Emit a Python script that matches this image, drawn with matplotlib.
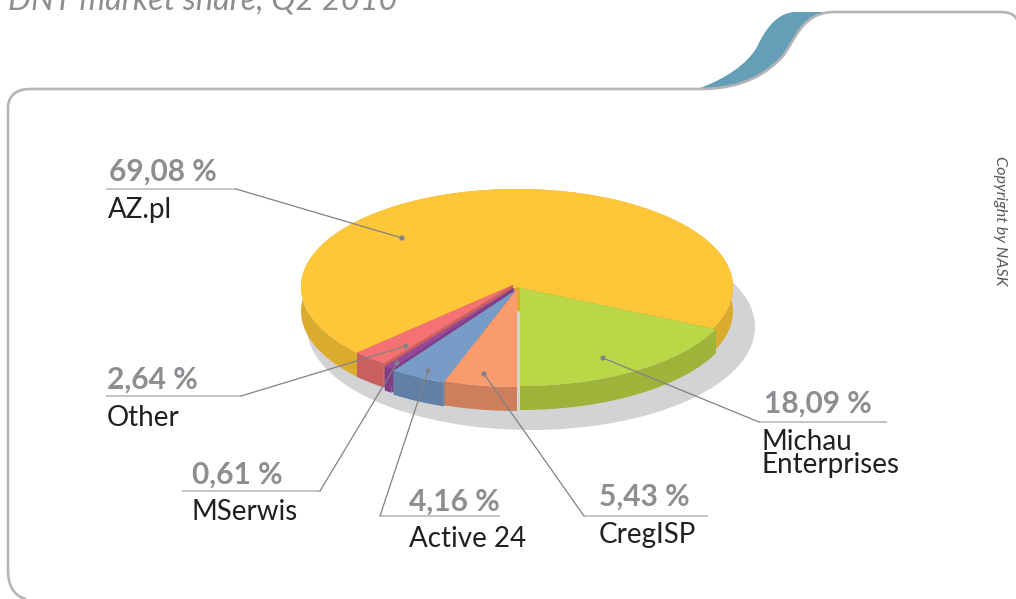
import numpy as np
import matplotlib
matplotlib.use("Agg")
import matplotlib.pyplot as plt
from matplotlib.patches import Polygon, Ellipse, PathPatch, Circle
from matplotlib.path import Path

plt.rcParams['font.family'] = ['Lato', 'DejaVu Sans']

# data, clockwise from the bottom of the pie
names = ["CregISP", "Active 24", "MSerwis", "Other", "AZ.pl", "Michau\nEnterprises"]
shares = [5.43, 4.16, 0.61, 2.64, 69.08, 18.09]
title = "DNT market share, Q2 2010"
credit = "Copyright by NASK"

# look of each slice
top_colors = ["#FA9B6E", "#779CC7", "#97489C", "#F47274", "#FFC637", "#BBD646"]
side_colors = ["#CC7F5A", "#6280A5", "#823D87", "#C9605F", "#DBAB2E", "#9DB33A"]
offsets = [(0, 2), (-1, 3), (-3, 1), (-4, -2), (0, 0), (3, 1)]

# label layout, in pixels
pct_pos = [(599, 506), (409, 511), (192, 484), (107, 389), (109, 181), (764, 413)]
name_pos = [(599, 543), (409, 547), (192, 520), (107, 426), (108, 218), (762, 473)]
rules = [(584, 708, 516), (380, 500, 516), (182, 320, 491), (106, 241, 396), (106, 236, 189), (759, 887, 422)]
rule_ends = [584, 380, 320, 241, 236, 759]
dots = [(484, 374), (428, 371), (397, 363), (406, 346), (402, 238), (603, 358)]

cx, cy, rx, ry = 517, 287, 216, 98
depth = 24
frame_col = "#B5B5B8"
line_col = "#808285"

fig = plt.figure(figsize=(10.16, 5.99), dpi=100)
ax = fig.add_axes([0, 0, 1, 1])
ax.set_xlim(0, 1016)
ax.set_ylim(599, 0)
ax.axis("off")

# frame with the curved step, and the teal tab
M, L, C = Path.MOVETO, Path.LINETO, Path.CURVE4
tab = Path([(700, 88), (722, 80), (748, 65), (758, 45), (766, 28), (778, 12), (796, 12),
            (832, 12), (800, 14), (795, 42), (782, 57), (768, 72), (745, 89), (700, 89)],
           [M, C, C, C, C, C, C, L, C, C, C, C, C, C])
ax.add_patch(PathPatch(tab, fc="#659FB7", ec="none"))
frame = Path([(26, 599), (14, 596), (8, 586), (8, 570), (8, 108), (8, 96), (16, 89), (30, 89), (700, 89),
              (745, 89), (768, 72), (782, 57), (795, 42), (800, 14), (832, 12),
              (1000, 12), (1010, 12), (1016, 15), (1018, 22)],
             [M, C, C, C, L, C, C, C, L, C, C, C, C, C, C, L, C, C, C])
ax.add_patch(PathPatch(frame, fc="none", ec=frame_col, lw=1.9))

# ground shadow
ax.add_patch(Ellipse((531, 327), 448, 206, fc="#D1D3D4", ec="none"))

# slices: back ones first so the front ones cover them
fractions = np.array(shares) / sum(shares)
ends = -90 - np.cumsum(fractions) * 360
starts = np.r_[-90, ends[:-1]]
for i in [4, 3, 2, 1, 0, 5]:
    t = np.radians(np.linspace(starts[i], ends[i], 300))
    ox = cx + offsets[i][0]
    oy = cy + offsets[i][1]
    x = ox + rx * np.cos(t)
    y = oy - ry * np.sin(t)
    # outer wall
    ax.add_patch(Polygon(np.c_[np.r_[x, x[::-1]], np.r_[y, y[::-1] + depth]], fc=side_colors[i], ec="none"))
    # cut faces
    for k in [0, -1]:
        ax.add_patch(Polygon([(ox, oy), (x[k], y[k]), (x[k], y[k] + depth), (ox, oy + depth)],
                             fc=side_colors[i], ec="none"))
    ax.add_patch(Polygon(np.c_[np.r_[ox, x], np.r_[oy, y]], fc=top_colors[i], ec="none"))

# labels and leader lines
for i, name in enumerate(names):
    x0, x1, yr = rules[i]
    ax.plot([x0, x1], [yr, yr], color=frame_col, lw=1.1, solid_capstyle="butt")
    ax.plot([rule_ends[i], dots[i][0]], [yr, dots[i][1]], color=line_col, lw=0.9)
    ax.add_patch(Circle(dots[i], 2.6, fc=line_col, ec="none", zorder=5))
    pct = f"{shares[i]:.2f}".replace(".", ",") + " %"
    ax.text(pct_pos[i][0], pct_pos[i][1], pct, fontsize=21.5, fontweight="bold", color="#8C8E91", va="baseline", ha="left")
    ax.text(name_pos[i][0], name_pos[i][1], name, fontsize=20, color="#231F20", va="baseline", ha="left", linespacing=0.85)

ax.text(8, 10, title, fontsize=23.4, style="italic", color="#8C8E91", va="baseline", ha="left")
ax.text(1000, 156, credit, fontsize=11.6, style="italic", color="#58595B", rotation=-90, va="top", ha="center")

fig.savefig("out.png", dpi=100)
